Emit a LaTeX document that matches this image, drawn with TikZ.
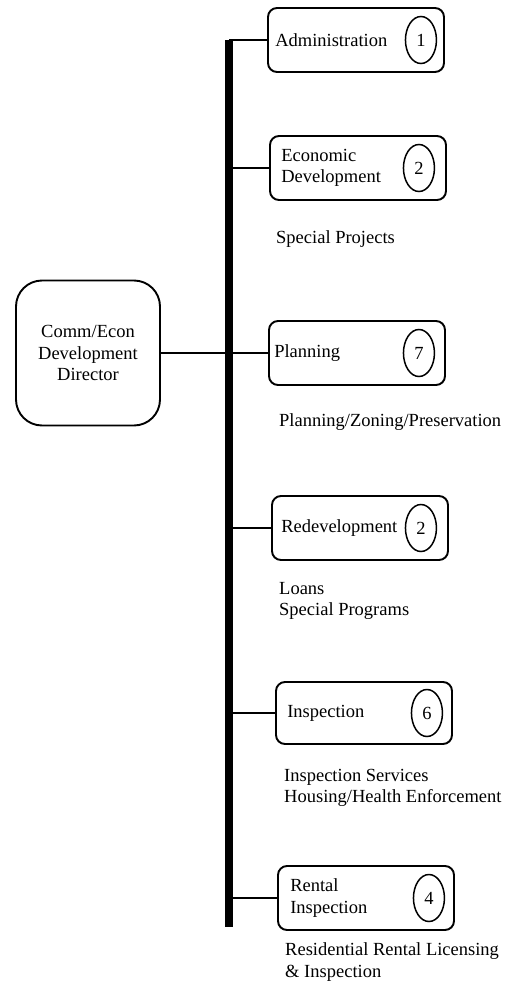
\documentclass[tikz,border=0pt]{standalone}
\usepackage{fontspec}
\setmainfont{Liberation Serif}
\usetikzlibrary{shapes.geometric}

\tikzset{
  unitbox/.style={draw, line width=1.9pt, rounded corners=9pt, minimum width=176pt, minimum height=64pt},
  headbox/.style={draw, line width=1.9pt, rounded corners=26pt, minimum width=144pt, minimum height=145pt, align=center},
  countoval/.style={draw, ellipse, line width=1.5pt, minimum width=31pt, minimum height=47pt, inner sep=0pt},
  unitname/.style={anchor=west, align=left, inner sep=0pt},
  duties/.style={anchor=west, align=left, inner sep=0pt},
  link/.style={line width=1.4pt}
}

\begin{document}
\begin{tikzpicture}[x=1pt, y=-1pt, font=\fontsize{18.5}{21.5}\selectfont]
        \useasboundingbox (0,0) rectangle (516,982);

        % Director
        \node[headbox] (dir) at (88,353) {Comm/Econ\\Development\\Director};

        % Main bar
        \coordinate (bartop) at (229,40);
        \coordinate (barbot) at (229,927);
        \draw[line width=8pt] (bartop) -- (barbot);

        % Administration
        \node[unitbox] (adm) at (356,40) {};
        \node[unitname] (admtext) at ([xshift=8pt]adm.west) {Administration};
        \node[countoval] (admcount) at ([xshift=-24pt]adm.east) {1};

        % Economic Development
        \node[unitbox] (eco) at (358,168) {};
        \node[unitname] (ecotext) at ([xshift=12pt]eco.west) {Economic\\Development};
        \node[countoval] (ecocount) at ([xshift=-28pt]eco.east) {2};
        \node[duties] (ecoduty) at (276,239) {Special Projects};

        % Planning
        \node[unitbox] (plan) at (357,353) {};
        \node[unitname] (plantext) at ([xshift=6pt]plan.west) {Planning};
        \node[countoval] (plancount) at ([xshift=-27pt]plan.east) {7};
        \node[duties] (planduty) at (279,422) {Planning/Zoning/Preservation};

        % Redevelopment
        \node[unitbox] (red) at (360,528) {};
        \node[unitname] (redtext) at ([xshift=10pt]red.west) {Redevelopment};
        \node[countoval] (redcount) at ([xshift=-28pt]red.east) {2};
        \node[duties] (redduty) at (279,601) {Loans\\Special Programs};

        % Inspection
        \node[unitbox, minimum height=62pt] (insp) at (364,713) {};
        \node[unitname] (insptext) at ([xshift=12pt]insp.west) {Inspection};
        \node[countoval] (inspcount) at ([xshift=-26pt]insp.east) {6};
        \node[duties] (inspduty) at (284,788) {Inspection Services\\Housing/Health Enforcement};

        % Rental Inspection
        \node[unitbox] (rent) at (366,898) {};
        \node[unitname] (renttext) at ([xshift=13pt]rent.west) {Rental\\Inspection};
        \node[countoval] (rentcount) at ([xshift=-26pt]rent.east) {4};
        \node[duties] (rentduty) at (285,962) {Residential Rental Licensing\\\& Inspection};

        % Connections
        \draw[link] (dir.east) -- (plan.west);
        \draw[link] (adm.west) -- (adm.west -| bartop);
        \draw[link] (eco.west) -- (eco.west -| bartop);
        \draw[link] (red.west) -- (red.west -| bartop);
        \draw[link] (insp.west) -- (insp.west -| bartop);
        \draw[link] (rent.west) -- (rent.west -| bartop);
    \end{tikzpicture}
\end{document}
